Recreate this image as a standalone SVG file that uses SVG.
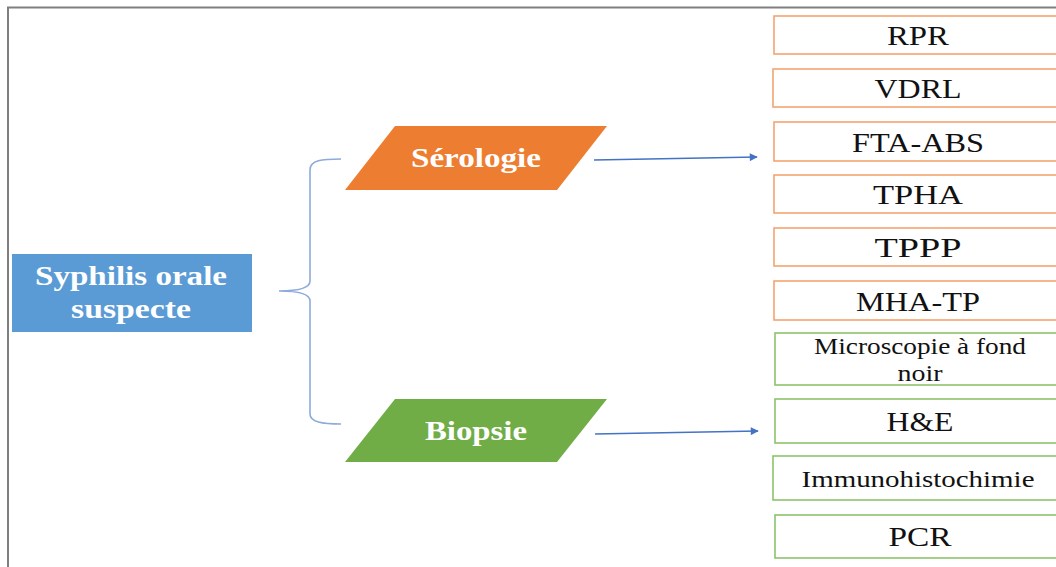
<svg xmlns="http://www.w3.org/2000/svg" width="1056" height="567" viewBox="0 0 1056 567">
<defs>
<style>
.frame{fill:none;stroke:#7f7f7f;stroke-width:2}
.ob{fill:#fff;stroke:#F4A46E;stroke-width:1.6}
.gb{fill:#fff;stroke:#8CC36A;stroke-width:1.6}
.t{font-family:"Liberation Serif","Times New Roman",serif;font-size:27px;fill:#111;text-anchor:middle}
.ts{font-size:23px}
.w{font-family:"Liberation Serif","Times New Roman",serif;font-weight:bold;font-size:28px;fill:#fff;text-anchor:middle}
.conn{fill:none;stroke:#4472C4;stroke-width:1.3}
.brace{fill:none;stroke:#8EAADB;stroke-width:1.6}
</style>
<marker id="ah" viewBox="0 0 10 10" refX="9" refY="5" markerWidth="10" markerHeight="8" markerUnits="userSpaceOnUse" orient="auto">
<path d="M0,0 L10,5 L0,10 z" fill="#4472C4"/>
</marker>
</defs>
<rect width="1056" height="567" fill="#fff"/>
<rect class="frame" x="8" y="7.5" width="1060" height="580"/>
<g id="connectors">
<path class="brace" d="M341,159 C322,159 310,160 310,170 L310,281 C310,289 295,291 279,291 C295,291 310,293 310,301 L310,414 C310,422 322,424 341,424"/>
<line class="conn" x1="594" y1="160" x2="757" y2="157" marker-end="url(#ah)"/>
<line class="conn" x1="595" y1="434" x2="758" y2="431" marker-end="url(#ah)"/>
</g>
<g id="syphilis">
<rect x="12" y="254" width="240" height="78" fill="#5B9BD5"/>
<text class="w" x="131" y="285" textLength="192" lengthAdjust="spacingAndGlyphs">Syphilis orale</text>
<text class="w" x="131" y="318" textLength="120" lengthAdjust="spacingAndGlyphs">suspecte</text>
</g>
<g id="serologie">
<polygon points="395,126 607,126 557,190 345,190" fill="#ED7D31"/>
<text class="w" x="476" y="167" textLength="130" lengthAdjust="spacingAndGlyphs">Sérologie</text>
</g>
<g id="biopsie">
<polygon points="395,399 607,399 557,462 345,462" fill="#70AD47"/>
<text class="w" x="476" y="440" textLength="102" lengthAdjust="spacingAndGlyphs">Biopsie</text>
</g>
<g id="rpr"><rect class="ob" x="774" y="16" width="290" height="38"/><text class="t" x="918" y="45" textLength="62" lengthAdjust="spacingAndGlyphs">RPR</text></g>
<g id="vdrl"><rect class="ob" x="773" y="69" width="290" height="38"/><text class="t" x="918" y="98" textLength="87" lengthAdjust="spacingAndGlyphs">VDRL</text></g>
<g id="fta"><rect class="ob" x="774" y="122" width="290" height="39"/><text class="t" x="918" y="152" textLength="132" lengthAdjust="spacingAndGlyphs">FTA-ABS</text></g>
<g id="tpha"><rect class="ob" x="774" y="175" width="290" height="38"/><text class="t" x="918" y="204" textLength="90" lengthAdjust="spacingAndGlyphs">TPHA</text></g>
<g id="tppp"><rect class="ob" x="774" y="228" width="290" height="38"/><text class="t" x="918" y="257" textLength="87" lengthAdjust="spacingAndGlyphs">TPPP</text></g>
<g id="mhatp"><rect class="ob" x="774" y="281" width="290" height="39"/><text class="t" x="918" y="311" textLength="124" lengthAdjust="spacingAndGlyphs">MHA-TP</text></g>
<g id="microscopie"><rect class="gb" x="775" y="333" width="290" height="52"/>
<text class="t ts" x="920" y="354" textLength="212" lengthAdjust="spacingAndGlyphs">Microscopie à fond</text>
<text class="t ts" x="920" y="381" textLength="45" lengthAdjust="spacingAndGlyphs">noir</text></g>
<g id="he"><rect class="gb" x="775" y="399" width="290" height="44"/><text class="t" x="920" y="431" textLength="67" lengthAdjust="spacingAndGlyphs">H&amp;E</text></g>
<g id="immuno"><rect class="gb" x="773" y="456" width="290" height="44"/><text class="t ts" x="918" y="487" textLength="233" lengthAdjust="spacingAndGlyphs">Immunohistochimie</text></g>
<g id="pcr"><rect class="gb" x="775" y="515" width="290" height="43"/><text class="t" x="920" y="546" textLength="63" lengthAdjust="spacingAndGlyphs">PCR</text></g>
</svg>
